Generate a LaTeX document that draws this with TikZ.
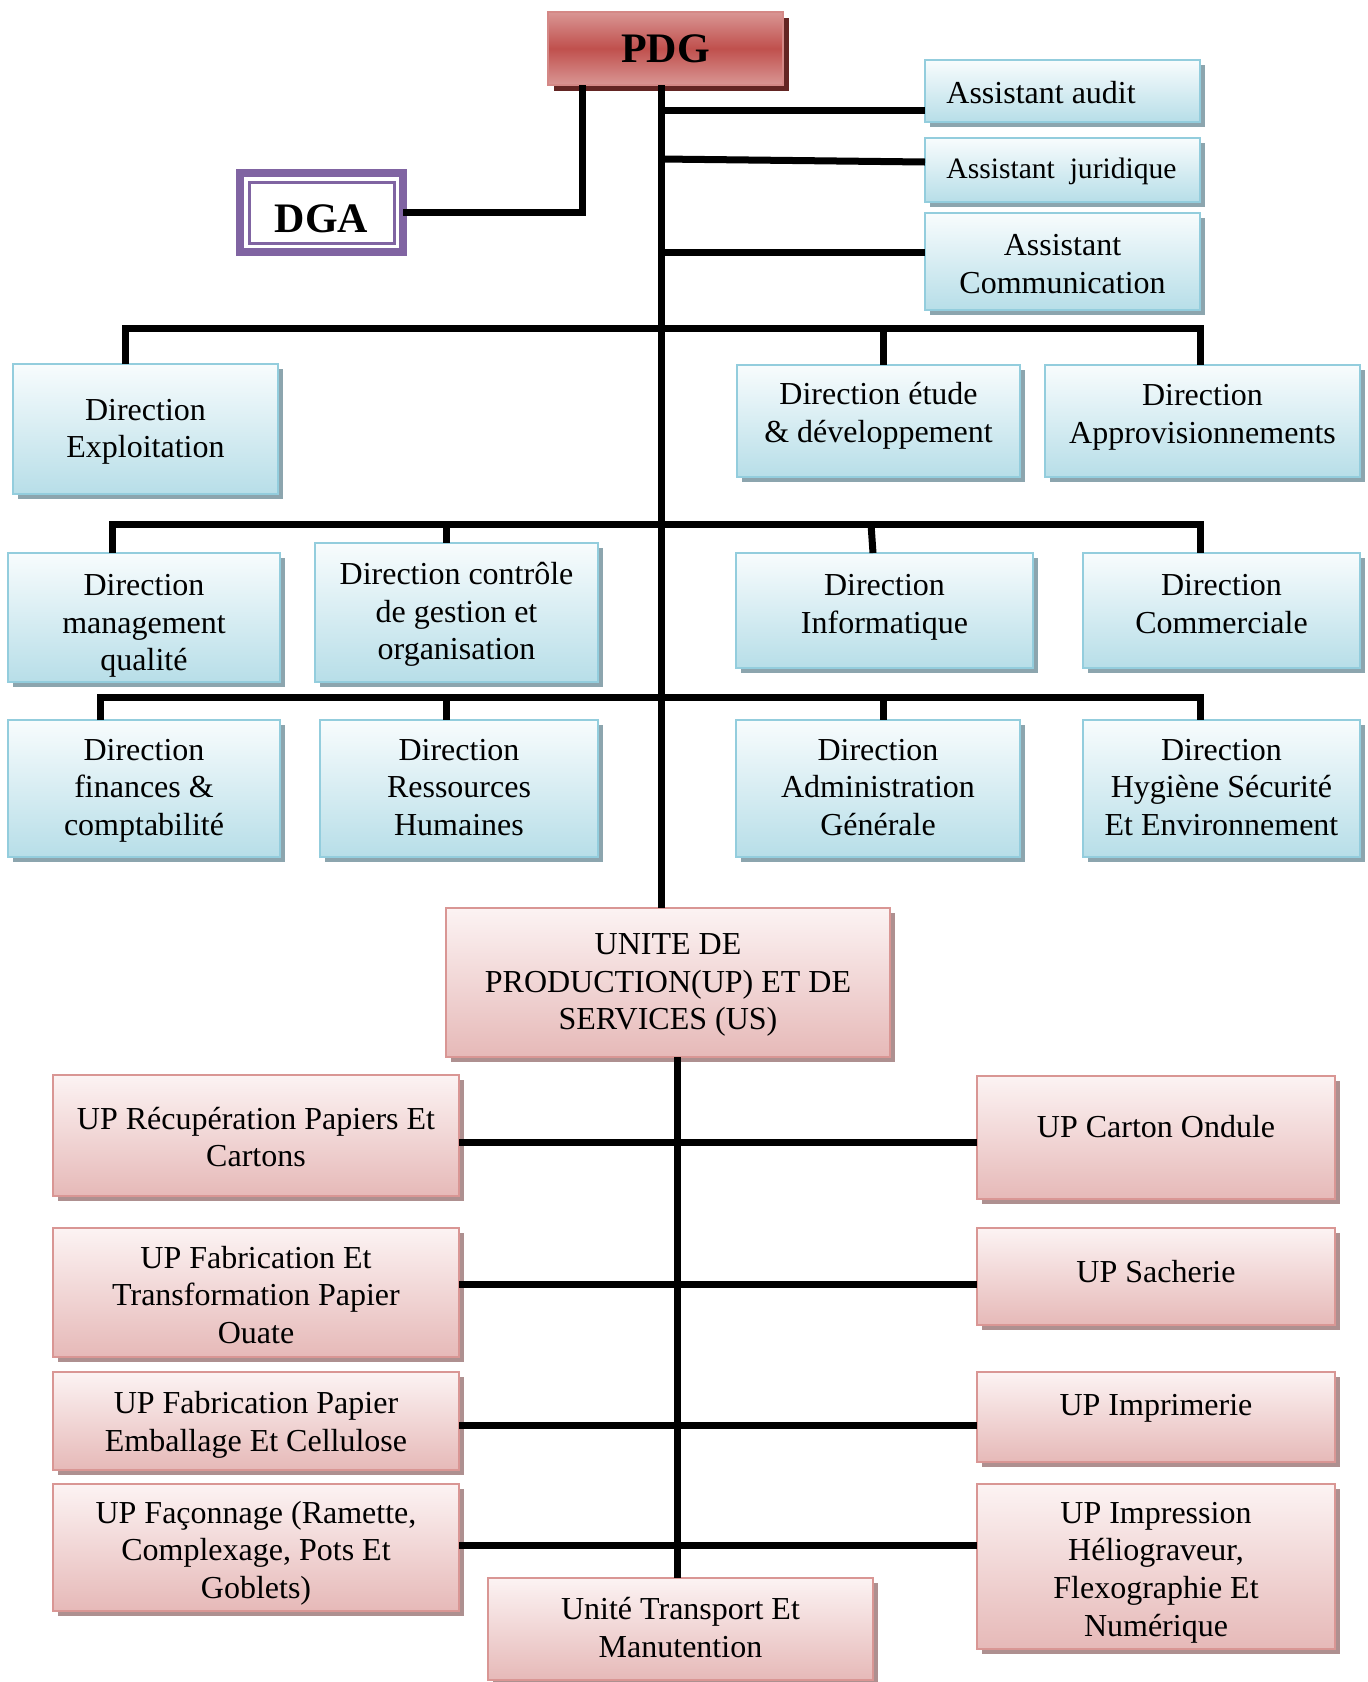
\documentclass[tikz,border=0pt]{standalone}
\usepackage{fontspec}
\setmainfont{Liberation Serif}
\usetikzlibrary{shadows}

\definecolor{bluetop}{HTML}{F8FCFD}
\definecolor{bluebot}{HTML}{B7DEE8}
\definecolor{blueedge}{HTML}{93CDDD}
\definecolor{blueshade}{HTML}{8CA5AE}
\definecolor{pinktop}{HTML}{FCF3F3}
\definecolor{pinkbot}{HTML}{E6B9B8}
\definecolor{pinkedge}{HTML}{D99694}
\definecolor{pinkshade}{HTML}{AE9090}
\definecolor{redmid}{HTML}{C0504D}
\definecolor{redlight}{HTML}{D99694}
\definecolor{redshade}{HTML}{632523}
\definecolor{dgaviolet}{HTML}{8064A2}

\tikzset{
  conn/.style={line width=3.5pt, black, line join=miter},
  bluebox/.style={draw=blueedge, line width=1pt, top color=bluetop, bottom color=bluebot,
    drop shadow={shadow xshift=2.5pt, shadow yshift=-2.5pt, fill=blueshade, opacity=1},
    outer sep=0pt, inner sep=0pt},
  pinkbox/.style={draw=pinkedge, line width=1pt, top color=pinktop, bottom color=pinkbot,
    drop shadow={shadow xshift=2.5pt, shadow yshift=-2.5pt, fill=pinkshade, opacity=1},
    outer sep=0pt, inner sep=0pt},
  pdgbox/.style={draw=redlight!80!redmid, line width=1pt, top color=redlight, bottom color=redlight,
    middle color=redmid,
    drop shadow={shadow xshift=3pt, shadow yshift=-3pt, fill=redshade, opacity=1},
    outer sep=0pt, inner sep=0pt, font=\fontsize{21}{25}\selectfont\bfseries},
  dgabox/.style={draw=dgaviolet, line width=4pt, fill=white, outer sep=0pt, inner sep=0pt},
  boxtext/.style={font=\fontsize{16}{18.8}\selectfont, align=center, inner sep=0pt,
    execute at begin node=\strut},
  headtext/.style={font=\fontsize{21}{25}\selectfont\bfseries, inner sep=0pt}
}

% box from its corners (x1,y1)-(x2,y2); text hangs #7 units below the top edge
\newcommand\orgbox[8]{%
  \node[#1, minimum width={(#5-#3)*0.5pt}, minimum height={(#6-#4)*0.5pt},
        anchor=north west] (#2) at (#3,#4) {};
  \node[boxtext, anchor=north] (#2-t) at ([yshift={-#7*0.5pt}]#2.north) {#8};%
}

\begin{document}
\begin{tikzpicture}[x=0.5pt, y=-0.5pt]
\useasboundingbox (0,0) rectangle (1368,1682);

% top management
\node[pdgbox, minimum width=117.5pt, minimum height=36.5pt] (pdg) at (665.5,48.5) {PDG};
\node[dgabox, minimum width=81.5pt, minimum height=39.5pt] (dga) at (321.5,212.5) {};
\draw[dgaviolet, line width=1.5pt] ([shift={(4.5pt,-4.5pt)}]dga.north west)
  rectangle ([shift={(-4.5pt,4.5pt)}]dga.south east);
\node[headtext] (dga-t) at ([yshift=-3pt]dga.center) {DGA};

% staff assistants
\node[bluebox, minimum width=137.5pt, minimum height=31pt, anchor=north west] (audit) at (925,60) {};
\node[boxtext, anchor=north west] (audit-t) at ([xshift=10.5pt, yshift=-8.2pt]audit.north west) {Assistant audit};
\node[bluebox, minimum width=137.5pt, minimum height=32pt, anchor=north west] (jur) at (925,138) {};
\node[boxtext, font=\fontsize{14.8}{17.4}\selectfont, anchor=north west] (jur-t)
  at ([xshift=10.5pt, yshift=-7.8pt]jur.north west) {Assistant~~juridique};
\orgbox{bluebox}{comma}{925}{213}{1200}{310}{20.9}{Assistant\\Communication}

% directions
\orgbox{bluebox}{expl}{13}{364}{278}{494}{34.8}{Direction\\Exploitation}
\orgbox{bluebox}{etude}{737}{365}{1020}{477}{17.2}{Direction étude\\\& développement}
\orgbox{bluebox}{approv}{1045}{365}{1360}{477}{19.3}{Direction\\Approvisionnements}
\orgbox{bluebox}{mgmt}{8}{553}{280}{682}{20.9}{Direction\\management\\qualité}
\orgbox{bluebox}{ctrl}{315}{543}{598}{682}{18.8}{Direction contrôle\\de gestion et\\organisation}
\orgbox{bluebox}{info}{736}{553}{1033}{668}{20.9}{Direction\\Informatique}
\orgbox{bluebox}{comm}{1083}{553}{1360}{668}{20.9}{Direction\\Commerciale}
\orgbox{bluebox}{fin}{8}{720}{280}{857}{18.8}{Direction\\finances \&\\comptabilité}
\orgbox{bluebox}{rh}{320}{720}{598}{857}{18.8}{Direction\\Ressources\\Humaines}
\orgbox{bluebox}{admin}{736}{720}{1020}{857}{18.8}{Direction\\Administration\\Générale}
\orgbox{bluebox}{hse}{1083}{720}{1360}{857}{18.8}{Direction\\Hygiène Sécurité\\Et Environnement}

% production and service units
\orgbox{pinkbox}{unite}{446}{908}{890}{1057}{25.3}{UNITE DE\\PRODUCTION(UP) ET DE\\SERVICES (US)}
\orgbox{pinkbox}{recup}{53}{1075}{459}{1196}{31.7}{UP Récupération Papiers Et\\Cartons}
\orgbox{pinkbox}{carton}{977}{1076}{1335}{1199}{34.9}{UP Carton Ondule}
\orgbox{pinkbox}{ouate}{53}{1228}{459}{1357}{17.7}{UP Fabrication Et\\Transformation Papier\\Ouate}
\orgbox{pinkbox}{sacherie}{977}{1228}{1335}{1325}{27.4}{UP Sacherie}
\orgbox{pinkbox}{emball}{53}{1372}{459}{1470}{18.8}{UP Fabrication Papier\\Emballage Et Cellulose}
\orgbox{pinkbox}{imprim}{977}{1372}{1335}{1462}{16.6}{UP Imprimerie}
\orgbox{pinkbox}{faconn}{53}{1484}{459}{1611}{16.6}{UP Façonnage (Ramette,\\Complexage, Pots Et\\Goblets)}
\orgbox{pinkbox}{impress}{977}{1484}{1335}{1649}{17.7}{UP Impression\\Héliograveur,\\Flexographie Et\\Numérique}
\orgbox{pinkbox}{transp}{488}{1578}{873}{1680}{18.8}{Unité Transport Et\\Manutention}

% connector columns and bus rows
\coordinate (spx) at (661,0);
\coordinate (dgx) at (582,0);
\coordinate (upx) at (677,0);
\coordinate (bus1) at (0,328);
\coordinate (bus2) at (0,524);
\coordinate (bus3) at (0,697);

\draw[conn] (pdg.south -| dgx) |- (dga.east);
\draw[conn] (pdg.south -| spx) -- (unite.north -| spx);
\draw[conn] (spx |- 0,110) -- (audit.west |- 0,110);
\draw[conn] (spx |- 0,159) -- (jur.west |- 0,162);
\draw[conn] (spx |- 0,252) -- (comma.west |- 0,252);

\draw[conn] (expl.north -| 125,0) -- (bus1 -| 125,0) -- (bus1 -| 1200,0) -- (approv.north -| 1200,0);
\draw[conn] (bus1 -| 883,0) -- (etude.north -| 883,0);

\draw[conn] (mgmt.north -| 112,0) -- (bus2 -| 112,0) -- (bus2 -| 1200,0) -- (comm.north -| 1200,0);
\draw[conn] (bus2 -| 446,0) -- (ctrl.north -| 446,0);
\draw[conn] (bus2 -| 871,0) -- (info.north -| 873,0);

\draw[conn] (fin.north -| 100,0) -- (bus3 -| 100,0) -- (bus3 -| 1200,0) -- (hse.north -| 1200,0);
\draw[conn] (bus3 -| 446,0) -- (rh.north -| 446,0);
\draw[conn] (bus3 -| 883,0) -- (admin.north -| 883,0);

\draw[conn] (unite.south -| upx) -- (transp.north -| upx);
\draw[conn] (recup.east |- 0,1142) -- (carton.west |- 0,1142);
\draw[conn] (ouate.east |- 0,1284) -- (sacherie.west |- 0,1284);
\draw[conn] (emball.east |- 0,1425) -- (imprim.west |- 0,1425);
\draw[conn] (faconn.east |- 0,1545) -- (impress.west |- 0,1545);
\end{tikzpicture}
\end{document}
